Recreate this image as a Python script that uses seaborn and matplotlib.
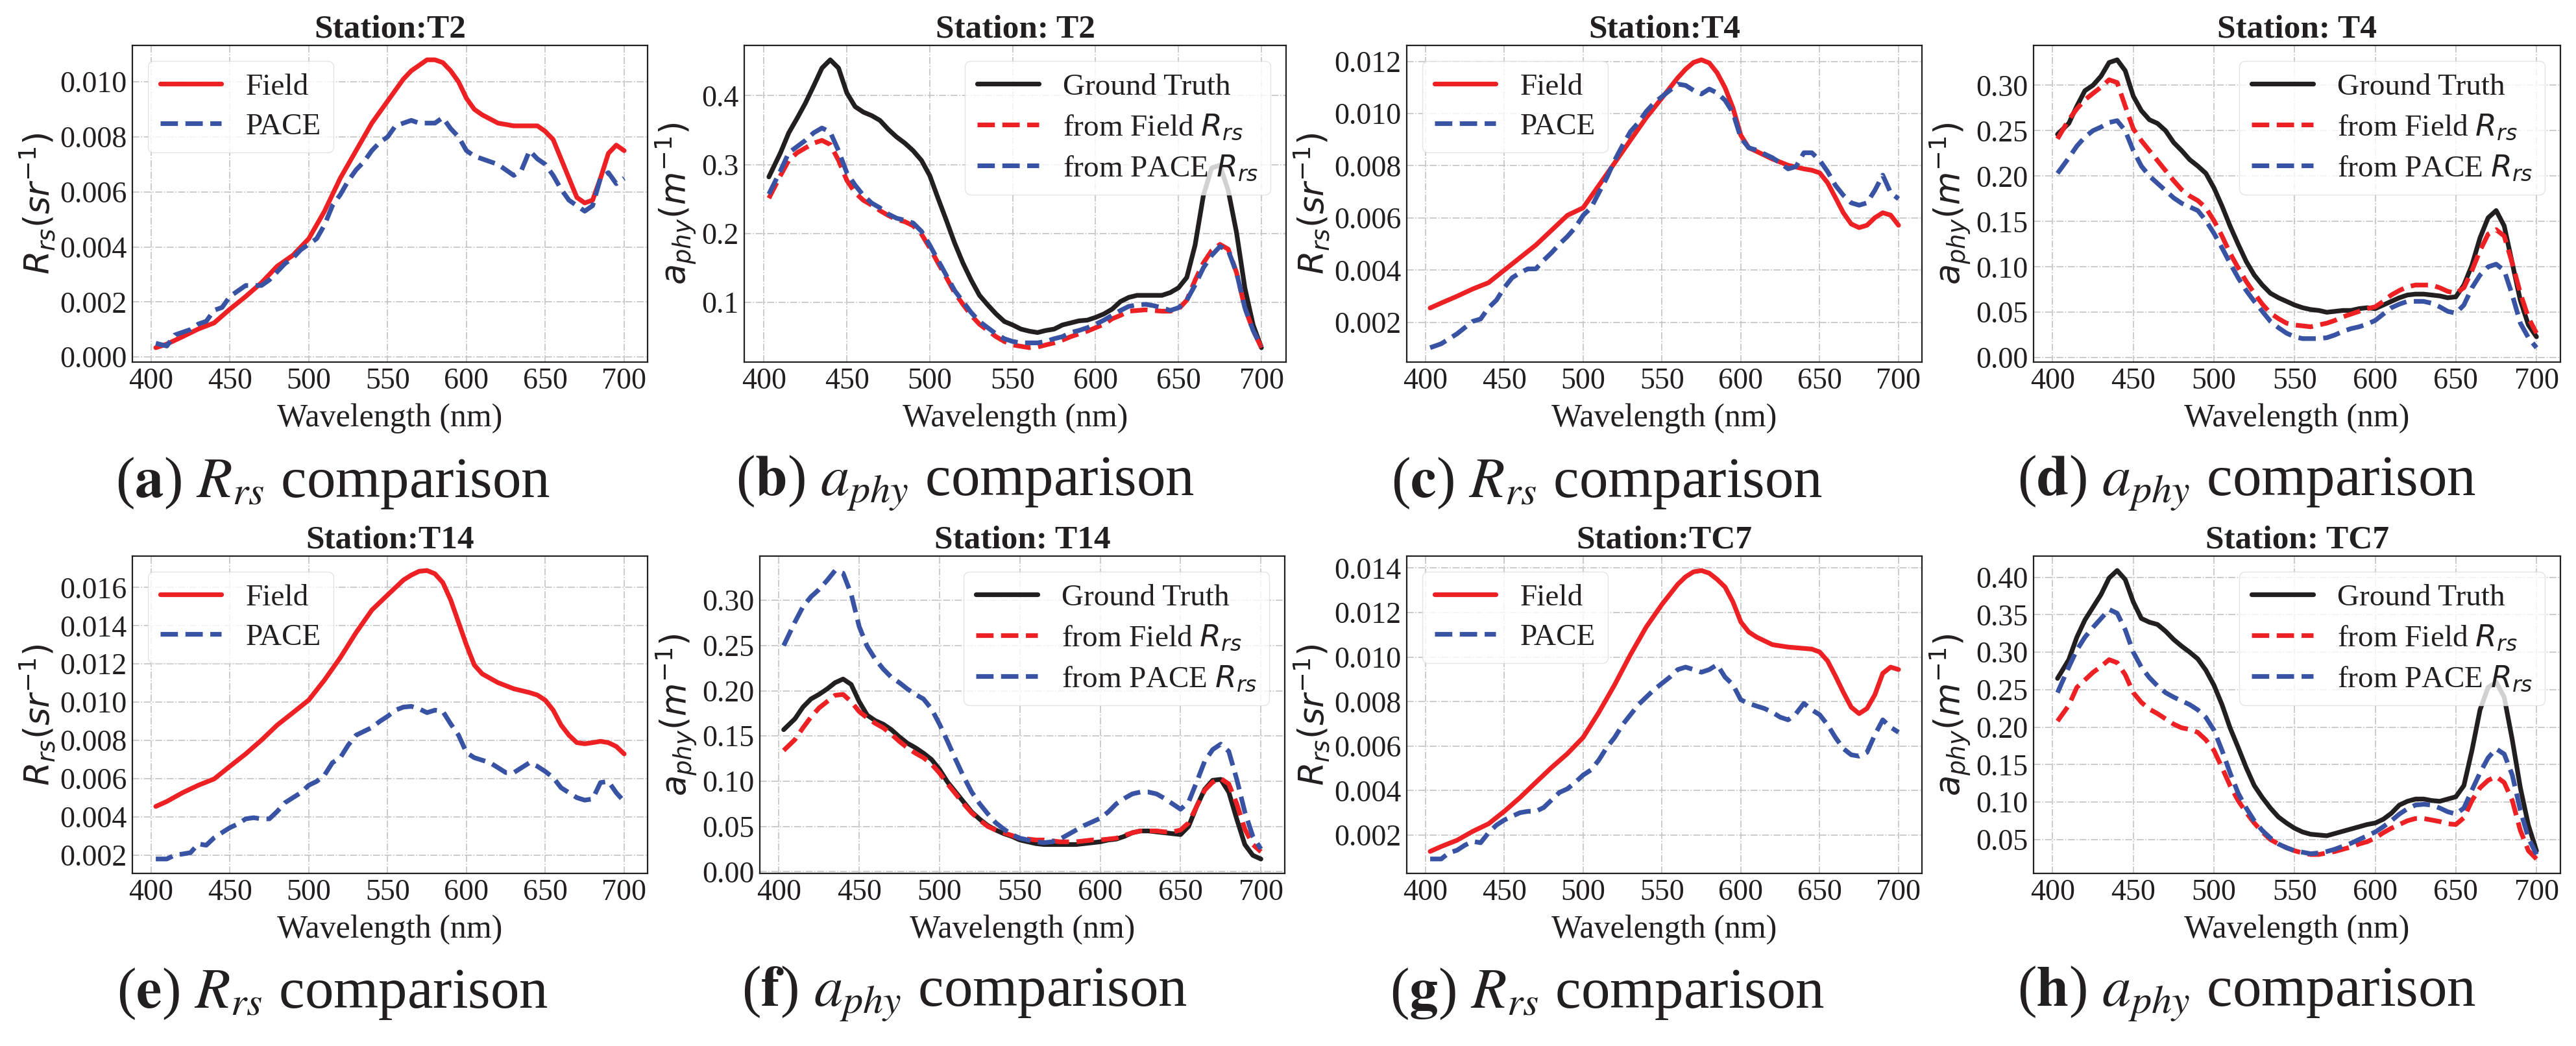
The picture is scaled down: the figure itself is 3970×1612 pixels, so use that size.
import matplotlib
matplotlib.use("Agg")
import matplotlib.pyplot as plt
import seaborn as sns
from matplotlib.ticker import MultipleLocator

# ---------------- data ----------------
wl_field = [403, 410, 420, 430, 440, 450, 460, 470, 480, 490,
            500, 510, 520, 530, 540, 550, 560, 565, 570, 575,
            580, 585, 590, 595, 600, 605, 610, 620, 630, 640,
            645, 650, 655, 660, 665, 670, 675, 680, 685, 690,
            695, 700]
wl = [403, 410, 415, 420, 425, 430, 435, 440, 445, 450,
      455, 460, 465, 470, 475, 480, 485, 490, 495, 500,
      505, 510, 515, 520, 525, 530, 535, 540, 545, 550,
      555, 560, 565, 570, 575, 580, 585, 590, 595, 600,
      605, 610, 615, 620, 625, 630, 635, 640, 645, 650,
      655, 660, 665, 670, 675, 680, 685, 690, 695, 700]

# Station T2
rrs_field_T2 = [.00034, .00047, .00074, .00102, .00124, .00174, .0022, .0027, .0033, .0037,
                .0043, .0053, .0065, .0075, .0085, .0093, .0101, .0104, .0106, .0108,
                .0108, .0107, .0104, .0100, .0094, .0090, .0088, .0085, .0084, .0084,
                .0084, .0082, .0079, .0072, .0065, .0058, .0056, .0057, .0065, .0074,
                .0077, .0075]
rrs_pace_T2 = [.0005, .0004, .0008, .0009, .0010, .0012, .0013, .0017, .0018, .0022,
               .0024, .0026, .0026, .0026, .0028, .0031, .0034, .0036, .0039, .0041,
               .0043, .0048, .0055, .0059, .0064, .0068, .0071, .0075, .0078, .0080,
               .0084, .0085, .0086, .0085, .0085, .0085, .0087, .0083, .0080, .0075,
               .0073, .0072, .0071, .0070, .0068, .0066, .0068, .0075, .0072, .0070,
               .0066, .0061, .0057, .0055, .0053, .0055, .0065, .0067, .0063, .0065]
aphy_gt_T2 = [.282, .317, .346, .367, .389, .414, .440, .452, .440, .404,
              .384, .376, .371, .364, .351, .340, .331, .320, .306, .284,
              .251, .219, .186, .157, .132, .110, .096, .083, .072, .067,
              .061, .058, .056, .059, .061, .067, .070, .073, .074, .078,
              .083, .090, .101, .107, .110, .110, .110, .110, .114, .121,
              .136, .183, .255, .295, .299, .262, .201, .121, .067, .034]
aphy_field_T2 = [.251, .284, .306, .317, .324, .331, .335, .329, .306, .277,
                 .259, .248, .241, .233, .226, .220, .217, .211, .199, .179,
                 .157, .136, .114, .097, .081, .068, .059, .050, .043, .038,
                 .036, .034, .035, .038, .041, .045, .050, .054, .058, .063,
                 .068, .076, .081, .087, .088, .089, .088, .087, .087, .090,
                 .103, .132, .157, .175, .184, .177, .143, .092, .059, .034]
aphy_pace_T2 = [.257, .291, .317, .326, .335, .346, .353, .347, .320, .288,
                .270, .255, .244, .237, .228, .222, .219, .215, .203, .183,
                .161, .139, .117, .101, .085, .072, .063, .054, .047, .043,
                .041, .041, .041, .043, .047, .050, .056, .059, .063, .068,
                .074, .081, .088, .094, .096, .097, .095, .092, .088, .092,
                .103, .125, .150, .168, .181, .175, .143, .092, .059, .036]

# Station T4
rrs_field_T4 = [.00255, .00274, .00300, .00328, .00352, .00400, .00448, .00496, .00553, .00610,
                .00639, .00725, .00811, .00898, .00984, .01060, .01137, .01170, .01196, .01206,
                .01194, .01156, .01099, .01022, .00917, .00869, .00855, .00826, .00802, .00788,
                .00783, .00773, .00735, .00678, .00620, .00577, .00563, .00572, .00601, .00620,
                .00611, .00572]
rrs_pace_T4 = [.00103, .00118, .00137, .00156, .00180, .00204, .00213, .00256, .00285, .00333,
               .00371, .00390, .00405, .00405, .00438, .00467, .00500, .00529, .00563, .00610,
               .00639, .00697, .00754, .00821, .00878, .00931, .00965, .01008, .01041, .01065,
               .01089, .01113, .01108, .01089, .01075, .01094, .01079, .01051, .01003, .00907,
               .00869, .00860, .00845, .00831, .00811, .00788, .00797, .00850, .00850, .00821,
               .00778, .00725, .00687, .00658, .00649, .00658, .00706, .00764, .00697, .00673]
aphy_gt_T4 = [.246, .258, .277, .294, .300, .310, .325, .328, .316, .288,
              .272, .262, .258, .250, .237, .228, .218, .211, .203, .187,
              .167, .145, .125, .106, .091, .080, .071, .066, .062, .058,
              .055, .053, .052, .050, .051, .052, .052, .054, .055, .054,
              .058, .062, .066, .069, .070, .070, .069, .068, .066, .067,
              .080, .102, .132, .154, .162, .145, .104, .063, .036, .023]
aphy_field_T4 = [.241, .262, .274, .284, .291, .298, .306, .303, .277, .252,
                 .239, .228, .217, .206, .195, .185, .178, .173, .165, .151,
                 .134, .115, .099, .084, .071, .059, .049, .043, .038, .036,
                 .035, .034, .036, .038, .041, .045, .048, .051, .054, .056,
                 .062, .069, .074, .078, .080, .080, .080, .077, .073, .071,
                 .077, .096, .118, .136, .141, .134, .104, .071, .044, .027]
aphy_pace_T4 = [.203, .220, .233, .243, .250, .254, .259, .261, .250, .228,
                .211, .200, .192, .184, .176, .170, .166, .162, .151, .137,
                .121, .104, .088, .074, .062, .051, .040, .033, .027, .023,
                .021, .021, .021, .022, .025, .029, .032, .034, .037, .041,
                .048, .055, .059, .062, .062, .062, .060, .056, .051, .049,
                .058, .077, .091, .100, .103, .096, .069, .038, .022, .011]

# Station T14
rrs_field_T14 = [.00454, .00480, .00526, .00565, .00598, .00664, .00729, .00801, .00880, .00945,
                 .01011, .01116, .01233, .01364, .01482, .01561, .01639, .01665, .01685, .01689,
                 .01672, .01626, .01535, .01417, .01299, .01194, .01148, .01102, .01070, .01050,
                 .01037, .01010, .00958, .00880, .00827, .00788, .00782, .00788, .00795, .00788,
                 .00768, .00729]
rrs_pace_T14 = [.00179, .00179, .00199, .00205, .00212, .00258, .00251, .00290, .00317, .00343,
                .00362, .00389, .00395, .00389, .00389, .00428, .00474, .00500, .00526, .00565,
                .00585, .00618, .00683, .00709, .00775, .00827, .00847, .00867, .00899, .00926,
                .00958, .00974, .00978, .00965, .00945, .00958, .00952, .00886, .00827, .00736,
                .00709, .00696, .00683, .00657, .00631, .00631, .00657, .00683, .00664, .00637,
                .00605, .00552, .00526, .00500, .00487, .00493, .00579, .00585, .00526, .00480]
aphy_gt_T14 = [.157, .169, .182, .191, .196, .202, .209, .213, .207, .188,
               .173, .167, .163, .157, .149, .142, .137, .131, .124, .113,
               .099, .088, .077, .066, .058, .051, .046, .042, .039, .035,
               .033, .031, .030, .030, .030, .030, .030, .031, .032, .033,
               .035, .036, .039, .043, .045, .045, .044, .043, .042, .041,
               .050, .072, .091, .101, .102, .088, .058, .030, .018, .014]
aphy_field_T14 = [.134, .146, .159, .171, .181, .188, .195, .196, .188, .177,
                  .170, .164, .159, .152, .144, .137, .131, .126, .119, .109,
                  .097, .086, .075, .065, .057, .050, .046, .043, .040, .037,
                  .036, .035, .035, .034, .033, .033, .033, .034, .035, .035,
                  .036, .037, .040, .043, .045, .045, .045, .044, .044, .046,
                  .054, .072, .090, .099, .103, .097, .075, .047, .030, .022]
aphy_pace_T14 = [.250, .276, .293, .304, .312, .322, .333, .330, .307, .271,
                 .249, .235, .224, .215, .209, .202, .196, .191, .180, .163,
                 .144, .124, .105, .088, .075, .064, .054, .047, .041, .037,
                 .035, .033, .032, .033, .036, .041, .046, .051, .055, .059,
                 .066, .075, .081, .086, .088, .088, .086, .081, .075, .069,
                 .077, .099, .122, .135, .141, .133, .102, .066, .039, .025]

# Station TC7
rrs_field_TC7 = [.00127, .00149, .00177, .00217, .00251, .00307, .00369, .00437, .00504, .00566,
                 .00639, .00752, .00876, .01011, .01135, .01237, .01327, .01361, .01383, .01389,
                 .01377, .01349, .01315, .01248, .01158, .01113, .01090, .01056, .01045, .01039,
                 .01036, .01023, .00983, .00915, .00842, .00775, .00746, .00769, .00831, .00927,
                 .00955, .00944]
rrs_pace_TC7 = [.00093, .00093, .00121, .00132, .00155, .00172, .00166, .00211, .00245, .00268,
                .00285, .00301, .00307, .00307, .00324, .00358, .00392, .00408, .00437, .00470,
                .00493, .00538, .00594, .00639, .00696, .00741, .00786, .00820, .00854, .00882,
                .00910, .00944, .00955, .00944, .00932, .00944, .00966, .00910, .00876, .00808,
                .00792, .00780, .00769, .00752, .00730, .00718, .00746, .00792, .00763, .00741,
                .00696, .00639, .00589, .00561, .00555, .00572, .00651, .00718, .00685, .00662]
aphy_gt_TC7 = [.265, .290, .320, .343, .360, .377, .399, .409, .397, .367,
               .345, .340, .337, .328, .317, .308, .300, .291, .276, .256,
               .230, .199, .173, .146, .122, .106, .092, .080, .072, .065,
               .060, .057, .056, .055, .058, .061, .064, .067, .070, .072,
               .077, .085, .096, .101, .104, .104, .102, .101, .104, .107,
               .122, .169, .223, .253, .260, .240, .183, .119, .069, .035]
aphy_field_TC7 = [.208, .229, .253, .263, .273, .281, .290, .286, .270, .246,
                  .233, .224, .218, .211, .204, .199, .197, .193, .183, .169,
                  .146, .122, .102, .086, .072, .060, .050, .044, .039, .035,
                  .032, .030, .030, .032, .034, .037, .040, .044, .047, .052,
                  .059, .065, .070, .075, .078, .078, .076, .074, .071, .070,
                  .079, .102, .119, .129, .134, .126, .102, .062, .035, .024]
aphy_pace_TC7 = [.246, .280, .303, .320, .333, .345, .357, .352, .330, .300,
                 .280, .266, .255, .246, .240, .235, .230, .223, .213, .196,
                 .169, .139, .112, .092, .075, .062, .052, .044, .039, .035,
                 .033, .031, .032, .034, .037, .041, .045, .050, .055, .060,
                 .067, .075, .084, .091, .096, .097, .096, .092, .087, .084,
                 .092, .116, .139, .159, .171, .164, .136, .089, .052, .030]

rrs_titles = ["Station:T2", "Station:T4", "Station:T14", "Station:TC7"]
aphy_titles = ["Station: T2", "Station: T4", "Station: T14", "Station: TC7"]
captions = [r"($\mathbf{a}$) $R_{rs}$ comparison", r"($\mathbf{b}$) $a_{phy}$ comparison",
            r"($\mathbf{c}$) $R_{rs}$ comparison", r"($\mathbf{d}$) $a_{phy}$ comparison",
            r"($\mathbf{e}$) $R_{rs}$ comparison", r"($\mathbf{f}$) $a_{phy}$ comparison",
            r"($\mathbf{g}$) $R_{rs}$ comparison", r"($\mathbf{h}$) $a_{phy}$ comparison"]
rrs_field_all = [rrs_field_T2, rrs_field_T4, rrs_field_T14, rrs_field_TC7]
rrs_pace_all = [rrs_pace_T2, rrs_pace_T4, rrs_pace_T14, rrs_pace_TC7]
aphy_gt_all = [aphy_gt_T2, aphy_gt_T4, aphy_gt_T14, aphy_gt_TC7]
aphy_field_all = [aphy_field_T2, aphy_field_T4, aphy_field_T14, aphy_field_TC7]
aphy_pace_all = [aphy_pace_T2, aphy_pace_T4, aphy_pace_T14, aphy_pace_TC7]
rrs_ystep = [0.002, 0.002, 0.002, 0.002]
aphy_ystep = [0.1, 0.05, 0.05, 0.05]

# ---------------- style ----------------
RED = "#ED2024"
BLUE = "#3953A4"
BLACK = "#231F20"
LW = 5.2

sns.set_theme(style="whitegrid")
plt.rcParams["font.family"] = ["Liberation Serif", "DejaVu Serif"]
plt.rcParams["mathtext.fontset"] = "dejavusans"

W, H = 3970, 1612
fig = plt.figure(figsize=(W / 100, H / 100), dpi=100)

# axes boxes in pixels (left, top, right, bottom)
boxes = [(204, 70, 998, 558), (1147, 70, 1982, 558), (2168, 70, 2962, 558), (3134, 70, 3946, 558),
         (204, 857, 998, 1346), (1171, 857, 1980, 1346), (2168, 857, 2962, 1346), (3134, 857, 3946, 1346)]
cap_x = [513, 1487, 2477, 3462]
cap_y = [745, 1532]


def style_ax(ax, title, ylabel, ystep):
    ax.set_title(title, fontsize=37, fontweight="bold", pad=9, color=BLACK)
    ax.set_xlabel("Wavelength (nm)", fontsize=36, labelpad=9, color=BLACK)
    ax.set_ylabel(ylabel, fontsize=38, labelpad=4, color=BLACK)
    ax.xaxis.set_major_locator(MultipleLocator(50))
    ax.yaxis.set_major_locator(MultipleLocator(ystep))
    ax.tick_params(axis="both", labelsize=33, colors=BLACK, length=0)
    ax.tick_params(axis="x", pad=6)
    ax.tick_params(axis="y", pad=6)
    ax.grid(True, color="#c2c2c2", linestyle="-.", linewidth=1.2)
    for s in ax.spines.values():
        s.set_color(BLACK)
        s.set_linewidth(1.6)


for i in range(8):
    l, t, r, b = boxes[i]
    ax = fig.add_axes([l / W, 1 - b / H, (r - l) / W, (b - t) / H])
    row, col = divmod(i, 4)
    st = row * 2 + col // 2
    if col % 2 == 0:
        sns.lineplot(x=wl_field, y=rrs_field_all[st], ax=ax, color=RED, linewidth=LW,
                     linestyle="-", label="Field")
        sns.lineplot(x=wl, y=rrs_pace_all[st], ax=ax, color=BLUE, linewidth=LW,
                     linestyle="--", label="PACE")
        style_ax(ax, rrs_titles[st], r"$R_{rs}(sr^{-1})$", rrs_ystep[st])
        loc = "upper left"
    else:
        sns.lineplot(x=wl, y=aphy_gt_all[st], ax=ax, color=BLACK, linewidth=LW,
                     linestyle="-", label="Ground Truth")
        sns.lineplot(x=wl, y=aphy_field_all[st], ax=ax, color=RED, linewidth=LW,
                     linestyle="--", label=r"from Field $R_{rs}$")
        sns.lineplot(x=wl, y=aphy_pace_all[st], ax=ax, color=BLUE, linewidth=LW,
                     linestyle="--", label=r"from PACE $R_{rs}$")
        style_ax(ax, aphy_titles[st], r"$a_{phy}(m^{-1})$", aphy_ystep[st])
        loc = "upper right"
    leg = ax.legend(loc=loc, fontsize=34, frameon=True, fancybox=True, framealpha=0.8,
                    edgecolor="#dcdcdc", borderaxespad=0.5, labelspacing=0.38,
                    handlelength=2.0)
    for txt in leg.get_texts():
        txt.set_color(BLACK)
    fig.text(cap_x[col] / W, 1 - cap_y[row] / H, captions[i], ha="center", va="center",
             fontsize=64, color=BLACK, math_fontfamily="stix")

fig.savefig("out.png", dpi=100)
